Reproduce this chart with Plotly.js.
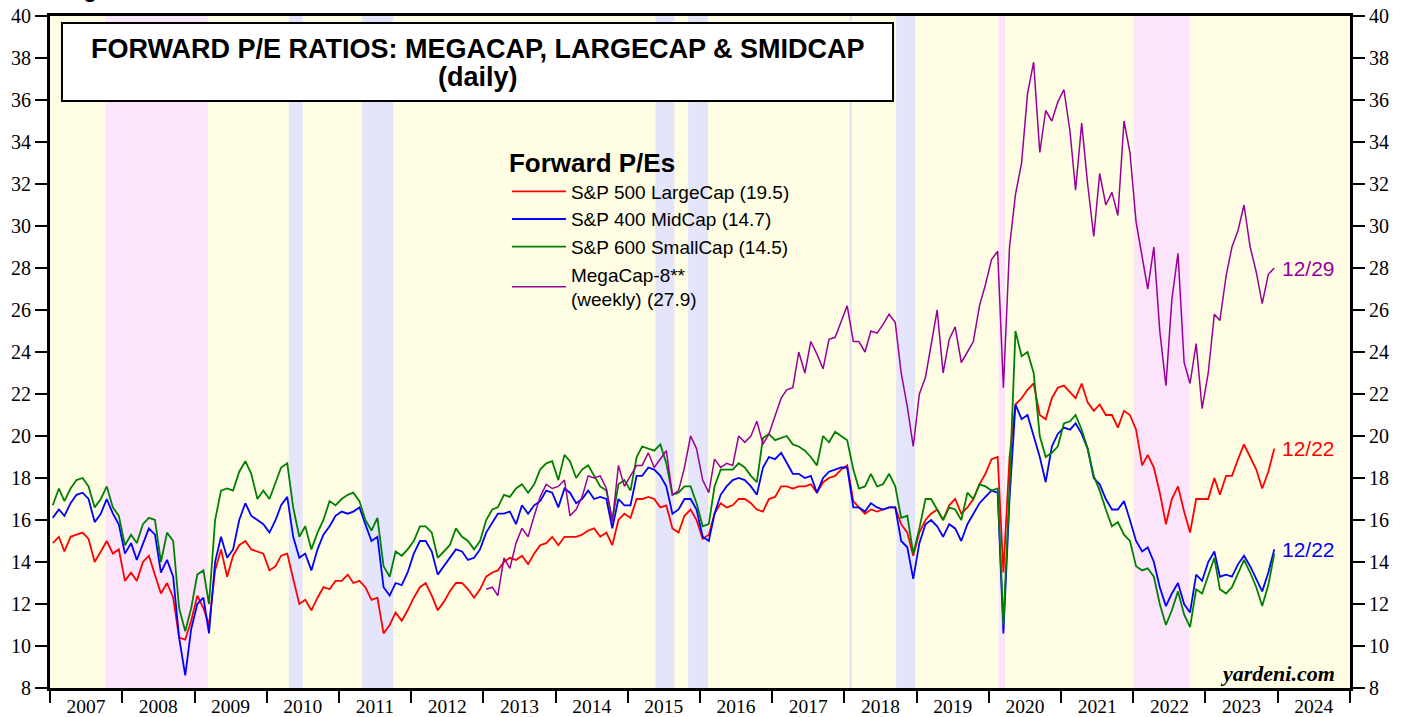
<!DOCTYPE html>
<html>
<head>
<meta charset="utf-8">
<script src="https://cdn.plot.ly/plotly-3.0.1.min.js"></script>
<style>
  body { margin: 0; background: #fff; }
  #chart { width: 1405px; height: 717px; }
</style>
</head>
<body>
<div id="chart"></div>
<script>
// forward P/E readings, one per month, Jan 2007 .. Dec 2023
var sp500 = [
  14.9,15.2,14.5,15.2,15.3,15.4,15.1,14.0,14.5,15.0,14.4,14.6,
  13.1,13.5,13.1,14.0,14.3,13.4,12.5,13.0,12.3,10.4,10.3,11.2,
  12.4,11.8,11.0,13.6,14.6,13.3,14.3,14.8,15.0,14.6,14.5,14.4,
  13.6,13.8,14.3,14.4,13.2,12.0,12.2,11.7,12.3,12.8,12.7,13.1,
  13.1,13.4,13.0,13.1,12.8,12.2,12.3,10.6,11.0,11.6,11.2,11.7,
  12.3,12.8,13.0,12.4,11.7,12.1,12.6,13.0,13.0,12.7,12.3,12.7,
  13.3,13.5,13.6,14.0,14.2,14.1,14.3,13.9,14.4,14.8,14.9,15.2,
  14.8,15.2,15.2,15.2,15.3,15.5,15.6,15.2,15.4,14.8,16.0,16.3,
  16.1,17.0,17.0,17.1,17.0,16.6,16.7,15.6,15.4,16.2,16.5,16.0,
  15.1,15.3,16.3,16.8,16.6,16.7,17.0,17.0,16.8,16.5,16.4,17.0,
  17.1,17.6,17.6,17.5,17.6,17.6,17.7,17.3,17.8,18.0,18.1,18.4,
  18.6,16.9,16.6,16.3,16.5,16.4,16.5,16.6,16.6,15.8,15.4,14.3,
  15.4,16.0,16.3,16.5,16.0,16.7,17.0,16.3,16.6,17.0,17.7,18.2,
  18.9,19.0,13.5,19.0,21.5,21.8,22.2,22.5,21.0,20.8,21.8,22.3,
  22.4,22.1,21.8,22.5,21.6,21.2,21.5,21.0,21.0,20.4,21.2,21.0,
  20.3,18.6,19.1,18.5,17.3,15.8,17.0,17.6,16.4,15.4,17.0,17.0,
  17.0,18.0,17.2,18.1,18.1,18.9,19.6,19.0,18.4,17.5,18.3,19.4
];
var sp400 = [
  16.1,16.5,16.2,16.8,17.2,17.3,17.0,15.9,16.3,17.0,16.3,15.8,
  14.4,14.9,14.1,14.9,15.6,15.3,13.5,14.1,13.3,10.4,8.6,10.8,
  12.0,12.3,10.6,14.0,15.2,14.2,14.6,16.0,16.8,16.2,16.0,15.8,
  15.4,16.0,16.7,17.1,15.2,14.2,14.4,13.6,14.6,15.3,15.7,16.2,
  16.4,16.3,16.4,16.6,15.8,15.0,15.2,12.8,12.4,13.0,12.9,13.5,
  14.4,15.0,15.0,14.5,13.4,13.8,14.2,14.6,14.5,14.1,14.2,14.6,
  15.4,15.9,16.3,16.3,16.4,15.8,16.7,16.3,16.7,16.9,17.4,17.3,
  16.6,17.5,17.3,16.8,17.0,17.4,17.0,17.1,17.0,15.6,17.0,16.7,
  16.7,18.1,18.1,18.5,18.4,18.1,17.6,16.3,16.5,17.0,17.0,16.5,
  15.2,15.0,16.3,17.2,17.6,17.9,18.0,17.9,17.6,17.2,18.5,19.0,
  18.9,19.2,18.7,18.2,18.2,18.0,18.1,17.3,18.0,18.3,18.4,18.5,
  18.5,16.6,16.6,16.4,16.8,16.6,16.5,16.6,16.6,15.0,14.7,13.2,
  14.9,15.8,16.0,15.7,15.2,15.8,15.6,15.0,15.8,16.3,16.8,17.1,
  17.4,17.3,10.6,17.0,21.5,20.8,21.0,20.0,19.0,17.8,19.5,20.1,
  20.4,20.3,20.6,20.1,19.4,18.0,17.7,17.0,16.5,16.5,16.9,16.0,
  15.0,14.5,14.7,14.0,12.8,11.9,12.5,13.0,12.0,11.6,13.4,13.1,
  14.0,14.5,13.3,13.4,13.3,13.9,14.3,13.8,13.2,12.6,13.5,14.6
];
var sp600 = [
  16.7,17.5,16.9,17.5,17.9,18.0,17.6,16.6,17.0,17.6,16.6,16.2,
  14.8,15.3,14.9,15.8,16.1,16.0,14.0,15.4,15.0,11.8,10.7,11.8,
  13.4,13.6,12.0,16.0,17.4,17.5,17.4,18.3,18.8,18.2,17.0,17.4,
  17.0,17.8,18.5,18.7,16.6,15.2,15.7,14.6,15.4,16.0,16.9,16.7,
  17.0,17.2,17.3,16.9,16.0,15.5,16.1,13.8,13.3,14.5,14.3,14.6,
  15.0,15.7,15.7,15.4,14.2,14.5,14.8,15.6,15.2,15.0,14.6,15.0,
  16.0,16.5,16.6,17.2,17.1,17.5,17.7,17.3,17.7,18.4,18.7,18.8,
  17.9,19.1,18.8,18.0,18.4,18.6,18.1,17.6,17.4,16.0,17.7,17.9,
  17.4,19.0,19.5,19.4,19.3,19.6,18.7,17.2,17.3,17.6,17.6,16.8,
  15.7,15.8,17.6,18.4,18.4,18.4,18.7,18.5,18.1,17.8,19.9,20.1,
  19.8,19.9,20.0,19.6,19.5,19.3,19.0,18.6,20.0,19.7,20.2,20.0,
  19.8,18.4,17.5,17.6,18.2,17.6,17.7,18.2,17.6,16.1,16.2,14.4,
  15.6,17.0,17.0,16.5,16.0,16.6,16.5,16.0,17.3,17.0,17.7,17.6,
  17.4,17.5,11.0,17.6,25.0,23.8,24.0,23.0,20.0,19.0,19.2,19.5,
  20.6,20.7,21.0,20.3,19.4,18.1,17.4,16.5,15.7,15.9,15.3,15.0,
  13.8,13.6,13.7,13.3,12.0,11.0,11.7,12.6,11.5,10.9,12.7,12.5,
  13.3,14.2,12.7,12.5,12.8,13.5,14.1,13.5,12.8,11.9,12.9,14.4
];
// MegaCap-8 (weekly series, read monthly), Jan 2013 .. Dec 2023
var mega8 = [
  12.7,12.8,12.4,14.2,13.7,14.9,15.6,15.2,16.2,17.1,17.7,17.5,
  17.6,17.9,16.2,16.5,17.1,18.1,18.0,18.1,17.5,15.9,18.6,17.6,
  18.1,18.6,18.6,19.2,18.5,18.9,19.3,17.2,17.4,18.5,20.0,19.4,
  17.9,17.3,18.9,18.5,18.7,18.6,20.0,19.7,20.0,20.7,19.6,20.1,
  20.9,21.8,22.2,22.3,24.0,23.0,24.5,23.9,23.2,24.6,24.7,25.4,
  26.2,24.5,24.5,24.0,25.0,24.9,25.3,25.8,25.4,23.0,21.4,19.5,
  22.0,22.8,24.3,26.0,23.0,24.6,25.2,23.5,24.0,24.5,26.2,27.2,
  28.4,28.8,22.3,29.0,31.5,33.0,36.3,37.8,33.5,35.5,35.0,35.9,
  36.5,34.5,31.7,34.9,32.0,29.5,32.5,31.0,31.6,30.5,35.0,33.5,
  30.2,28.5,27.0,29.0,25.0,22.4,26.5,28.7,23.5,22.5,24.4,21.3,
  23.0,25.8,25.5,27.6,29.0,29.8,31.0,29.0,27.8,26.3,27.7,28.0
];

var seriesNames = ['S&P 500 LargeCap (19.5)', 'S&P 400 MidCap (14.7)',
                   'S&P 600 SmallCap (14.5)', 'MegaCap-8**<br>(weekly) (27.9)'];
var seriesColors = ['#ff0000', '#0000ff', '#008000', '#990099'];
var lastDates = ['12/22', '12/22', '', '12/29'];

// market corrections (lavender) and bear markets (pink)
var bandStart = ['2007-10-09','2010-04-23','2011-04-29','2015-05-21','2015-11-03',
                 '2018-01-26','2018-09-20','2020-02-19','2022-01-03'];
var bandEnd   = ['2009-03-09','2010-07-02','2011-10-03','2015-08-25','2016-02-11',
                 '2018-02-08','2018-12-24','2020-03-23','2022-10-12'];
var bandKind  = ['bear','corr','corr','corr','corr','corr','corr','bear','bear'];

function monthDates(year, n) {
  var out = [];
  for (var i = 0; i < n; i++) {
    var y = year + Math.floor(i / 12), m = (i % 12) + 1;
    out.push(y + '-' + (m < 10 ? '0' + m : m) + '-15');
  }
  return out;
}

var allVals = [sp500, sp400, sp600, mega8];
var startYear = [2007, 2007, 2007, 2013];

var traces = [];
for (var i = 0; i < 4; i++) {
  traces.push({
    x: monthDates(startYear[i], allVals[i].length),
    y: allVals[i],
    name: seriesNames[i],
    type: 'scatter',
    mode: 'lines',
    yaxis: i == 3 ? 'y2' : 'y',
    line: {color: seriesColors[i], width: i == 3 ? 1.5 : 1.8}
  });
}

var shapes = [];
for (var j = 0; j < bandStart.length; j++) {
  shapes.push({
    type: 'rect', xref: 'x', yref: 'paper', layer: 'below',
    x0: bandStart[j], x1: bandEnd[j], y0: 0, y1: 1,
    fillcolor: bandKind[j] == 'bear' ? '#fce4fb' : '#e4e4fa',
    line: {width: 0}
  });
}
// white title box
shapes.push({
  type: 'rect', xref: 'paper', yref: 'paper', layer: 'above',
  x0: 0.0092, x1: 0.6485, y0: 0.8735, y1: 0.9896,
  fillcolor: '#ffffff', line: {color: '#000', width: 2}
});

var serif = 'Liberation Serif, Times New Roman, serif';
var sans = 'Liberation Sans, Arial, sans-serif';

var annotations = [
  {
    xref: 'paper', yref: 'paper', x: 0.329, y: 0.951, xanchor: 'center', yanchor: 'middle',
    text: '<b>FORWARD P/E RATIOS: MEGACAP, LARGECAP & SMIDCAP</b>', showarrow: false,
    font: {family: sans, size: 27, color: '#000'}
  },
  {
    xref: 'paper', yref: 'paper', x: 0.329, y: 0.909, xanchor: 'center', yanchor: 'middle',
    text: '<b>(daily)</b>', showarrow: false,
    font: {family: sans, size: 27, color: '#000'}
  },
  {
    xref: 'paper', yref: 'paper', x: 0.0092, y: 1.018, xanchor: 'left', yanchor: 'bottom',
    text: '<b>Figure 5.</b>', showarrow: false,
    font: {family: sans, size: 22, color: '#000'}
  },
  {
    xref: 'paper', yref: 'paper', x: 0.990, y: 0.021, xanchor: 'right', yanchor: 'middle',
    text: '<b><i>yardeni.com</i></b>', showarrow: false,
    font: {family: serif, size: 22, color: '#000'}
  }
];
for (var k = 0; k < 4; k++) {
  if (!lastDates[k]) continue;
  annotations.push({
    xref: 'x', yref: 'y', x: '2024-01-14', y: allVals[k][allVals[k].length - 1],
    xanchor: 'left', yanchor: 'middle', showarrow: false,
    text: lastDates[k], font: {family: sans, size: 21, color: seriesColors[k]}
  });
}

var yStyle = {
  range: [8, 40], dtick: 2, ticks: 'outside', ticklen: 12, tickwidth: 2, tickcolor: '#000',
  showline: true, linewidth: 3, linecolor: '#000', showgrid: false, zeroline: false,
  tickfont: {family: serif, size: 20, color: '#000'}, fixedrange: true
};

var layout = {
  width: 1405, height: 717,
  margin: {l: 50, r: 55, t: 16, b: 29, pad: 0},
  paper_bgcolor: '#ffffff',
  plot_bgcolor: '#fffee4',
  showlegend: true,
  legend: {
    x: 0.3515, xanchor: 'left', y: 0.8175, yanchor: 'top',
    bgcolor: 'rgba(0,0,0,0)', itemwidth: 54, tracegroupgap: 0,
    font: {family: sans, size: 19, color: '#000'},
    title: {text: '<b>Forward P/Es</b>', font: {family: sans, size: 26, color: '#000'}}
  },
  xaxis: {
    type: 'date', range: ['2007-01-01', '2025-01-01'],
    tick0: '2007-01-01', dtick: 'M12', tickformat: '%Y', ticklabelmode: 'period',
    ticks: 'outside', ticklen: 12, tickwidth: 2, tickcolor: '#000', ticklabelstandoff: -13,
    showline: true, linewidth: 3, linecolor: '#000', mirror: true,
    showgrid: false, zeroline: false,
    tickfont: {family: serif, size: 19.5, color: '#000'}
  },
  yaxis: Object.assign({mirror: true}, yStyle),
  yaxis2: Object.assign({overlaying: 'y', side: 'right'}, yStyle),
  shapes: shapes,
  annotations: annotations
};

Plotly.newPlot('chart', traces, layout, {displayModeBar: false, staticPlot: true});
</script>
</body>
</html>
